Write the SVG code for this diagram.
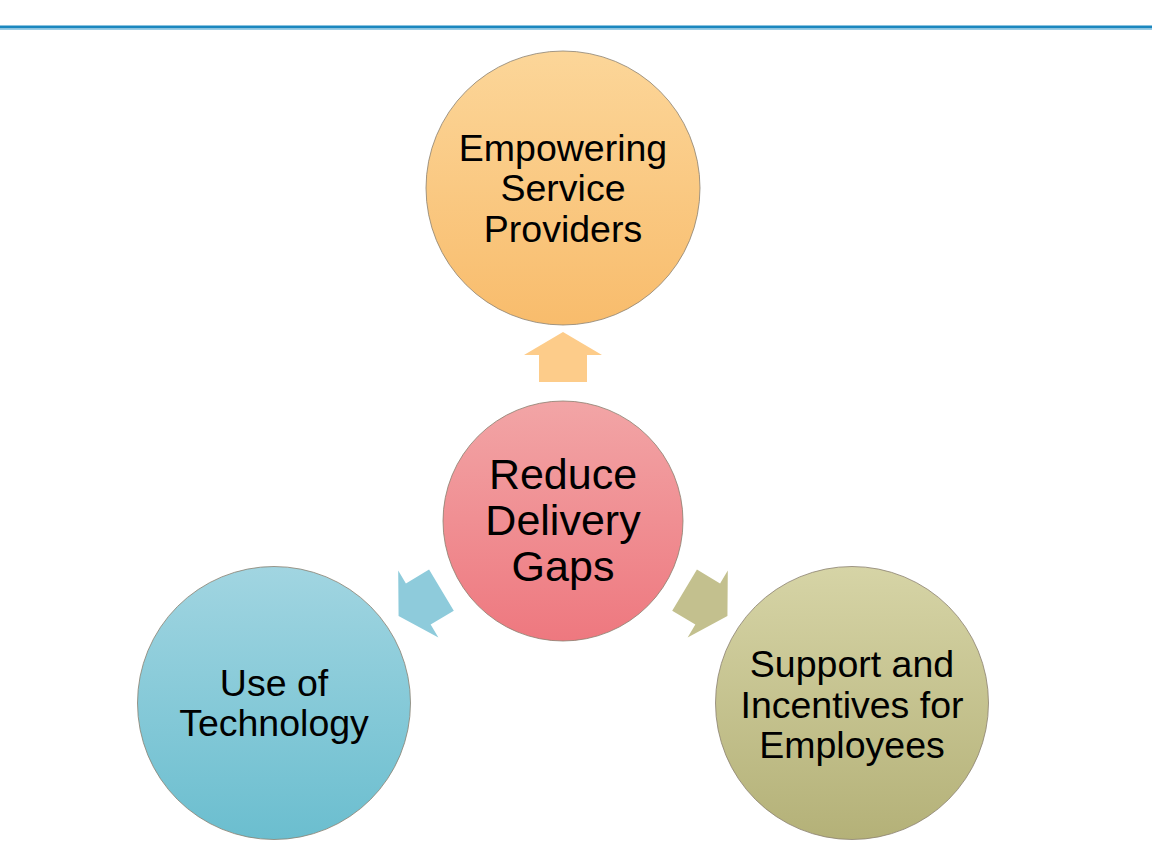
<svg xmlns="http://www.w3.org/2000/svg" width="1152" height="864" viewBox="0 0 1152 864">
<style>
.t{font-family:"Liberation Sans",Arial,sans-serif;fill:#000;text-anchor:middle}
.s{font-size:37.5px}
.c{font-size:43px}
.n{stroke:#8a8070;stroke-width:0.8}
</style>
<defs>
<linearGradient id="gO" x1="0" y1="0" x2="0" y2="1"><stop offset="0" stop-color="#fcd699"/><stop offset="1" stop-color="#f8bc6c"/></linearGradient>
<linearGradient id="gR" x1="0" y1="0" x2="0" y2="1"><stop offset="0" stop-color="#f2a5a6"/><stop offset="1" stop-color="#ee787f"/></linearGradient>
<linearGradient id="gB" x1="0" y1="0" x2="0" y2="1"><stop offset="0" stop-color="#a1d5e1"/><stop offset="1" stop-color="#6bbecf"/></linearGradient>
<linearGradient id="gG" x1="0" y1="0" x2="0" y2="1"><stop offset="0" stop-color="#d6d4a6"/><stop offset="1" stop-color="#b4b178"/></linearGradient>
<polygon id="arr" points="0,-25 39,-2 24,-2 24,25 -24,25 -24,-2 -39,-2"/>
</defs>
<rect width="1152" height="864" fill="#fff"/>
<line x1="0" y1="27" x2="1152" y2="27" stroke="#1b87bf" stroke-width="3"/>
<line x1="0" y1="29.5" x2="1152" y2="29.5" stroke="#9ccde6" stroke-width="1"/>
<g id="connectors">
<use href="#arr" transform="translate(563,357)" fill="#fdcc8a"/>
<use href="#arr" transform="translate(420,603) rotate(-121)" fill="#8ecbdb"/>
<use href="#arr" transform="translate(706,603) rotate(121)" fill="#c3c08e"/>
</g>
<g id="top">
<circle class="n" cx="563" cy="188" r="137" fill="url(#gO)"/>
<text class="t s" x="563" y="161">Empowering</text>
<text class="t s" x="563" y="201">Service</text>
<text class="t s" x="563" y="242">Providers</text>
</g>
<g id="center">
<circle class="n" cx="563" cy="521" r="120" fill="url(#gR)"/>
<text class="t c" x="563" y="489">Reduce</text>
<text class="t c" x="563" y="535">Delivery</text>
<text class="t c" x="563" y="581">Gaps</text>
</g>
<g id="left">
<circle class="n" cx="274" cy="703" r="136.5" fill="url(#gB)"/>
<text class="t s" x="274" y="696">Use of</text>
<text class="t s" x="274" y="736">Technology</text>
</g>
<g id="right">
<circle class="n" cx="852" cy="703" r="136.5" fill="url(#gG)"/>
<text class="t s" x="852" y="677">Support and</text>
<text class="t s" x="852" y="718">Incentives for</text>
<text class="t s" x="852" y="758">Employees</text>
</g>
</svg>
